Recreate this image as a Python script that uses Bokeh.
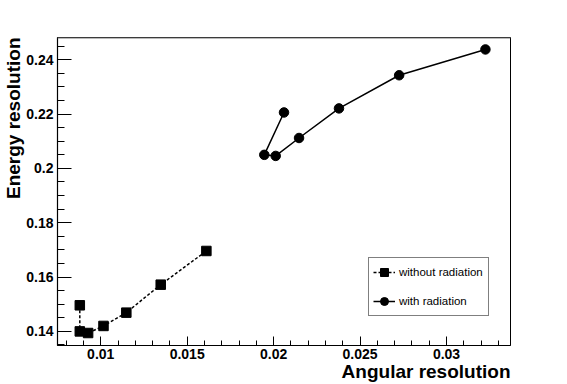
import numpy as np
from bokeh.plotting import figure
from bokeh.models import (FixedTicker, Legend, LegendItem, Span, Range1d, Title)
from bokeh.embed import file_html
from bokeh.resources import INLINE

# ---- data ----
ang_without = [0.00879, 0.00879, 0.00927, 0.01016, 0.01148, 0.01347, 0.01611]
en_without = [0.1496, 0.1400, 0.1394, 0.1420, 0.1469, 0.1572, 0.1696]

ang_with = [0.02060, 0.01946, 0.02012, 0.02147, 0.02378, 0.02726, 0.03225]
en_with = [0.2206, 0.2050, 0.2046, 0.2112, 0.2221, 0.2343, 0.2438]

x_ticks = [0.01, 0.015, 0.02, 0.025, 0.03]
x_tick_labels = ["0.01", "0.015", "0.02", "0.025", "0.03"]
y_ticks = [0.14, 0.16, 0.18, 0.2, 0.22, 0.24]
y_tick_labels = ["0.14", "0.16", "0.18", "0.2", "0.22", "0.24"]

x_title = "Angular resolution"
y_title = "Energy resolution"
series_names = ["without radiation", "with radiation"]

X0, X1 = 0.0075, 0.0337
Y0, Y1 = 0.1348, 0.2482

FONT = "Liberation Sans"

p = figure(width=567, height=384, output_backend="svg", toolbar_location=None,
           x_range=Range1d(X0, X1), y_range=Range1d(Y0, Y1),
           min_border_left=57, min_border_right=57, min_border_top=37, min_border_bottom=39)
p.background_fill_color = "white"
p.border_fill_color = "white"
p.grid.visible = False
p.outline_line_color = "black"
p.outline_line_width = 1

# axes
p.xaxis.ticker = FixedTicker(ticks=x_ticks, minor_ticks=list(np.round(np.arange(0.008, 0.0336, 0.001), 4)))
p.yaxis.ticker = FixedTicker(ticks=y_ticks, minor_ticks=list(np.round(np.arange(0.135, 0.2481, 0.005), 4)))
p.xaxis.major_label_overrides = {t: l for t, l in zip(x_ticks, x_tick_labels)}
p.yaxis.major_label_overrides = {t: l for t, l in zip(y_ticks, y_tick_labels)}

for ax in (p.xaxis[0], p.yaxis[0]):
    ax.axis_line_color = "black"
    ax.axis_line_width = 1.2
    ax.major_tick_line_color = "black"
    ax.minor_tick_line_color = "black"
    ax.major_tick_out = 0
    ax.minor_tick_out = 0
    ax.major_label_text_font = FONT
    ax.major_label_text_font_style = "bold"
    ax.major_label_text_font_size = "14px"
    ax.major_label_text_color = "black"

p.xaxis.major_tick_in = 9
p.xaxis.minor_tick_in = 5
p.xaxis.major_label_standoff = 3
p.yaxis.major_tick_in = 14
p.yaxis.minor_tick_in = 7
p.yaxis.major_label_standoff = 4

# top border (gray)
p.add_layout(Span(location=Y1, dimension="width", line_color="#777777", line_width=2))

# series
l1 = p.line(ang_without, en_without, line_color="black", line_width=1.5, line_dash="3 2")
s1 = p.scatter(ang_without, en_without, marker="square", size=9.5, fill_color="black", line_color="black")
l2 = p.line(ang_with, en_with, line_color="black", line_width=1.5)
s2 = p.scatter(ang_with, en_with, marker="circle", size=9.5, fill_color="black", line_color="black")

legend = Legend(items=[LegendItem(label=series_names[0], renderers=[l1, s1]),
                       LegendItem(label=series_names[1], renderers=[l2, s2])],
                location=(311, 29), orientation="vertical")
legend.border_line_color = "black"
legend.border_line_width = 1
legend.background_fill_color = "white"
legend.background_fill_alpha = 1
legend.padding = 4
legend.margin = 0
legend.spacing = 9
legend.glyph_height = 20
legend.glyph_width = 22
legend.label_standoff = 4
legend.label_width = 85
legend.label_text_font = FONT
legend.label_text_font_size = "11.5px"
legend.label_text_color = "black"
p.add_layout(legend)

# axis titles (right-aligned, ROOT style)
tx = Title(text=x_title, align="right", text_font=FONT, text_font_style="bold",
           text_font_size="19px", text_color="black", standoff=-5, offset=0)
ty = Title(text=y_title, align="right", text_font=FONT, text_font_style="bold",
           text_font_size="19px", text_color="black", standoff=0, offset=0)
p.add_layout(tx, "below")
p.add_layout(ty, "left")

open("out.html", "w").write(file_html(p, INLINE))
